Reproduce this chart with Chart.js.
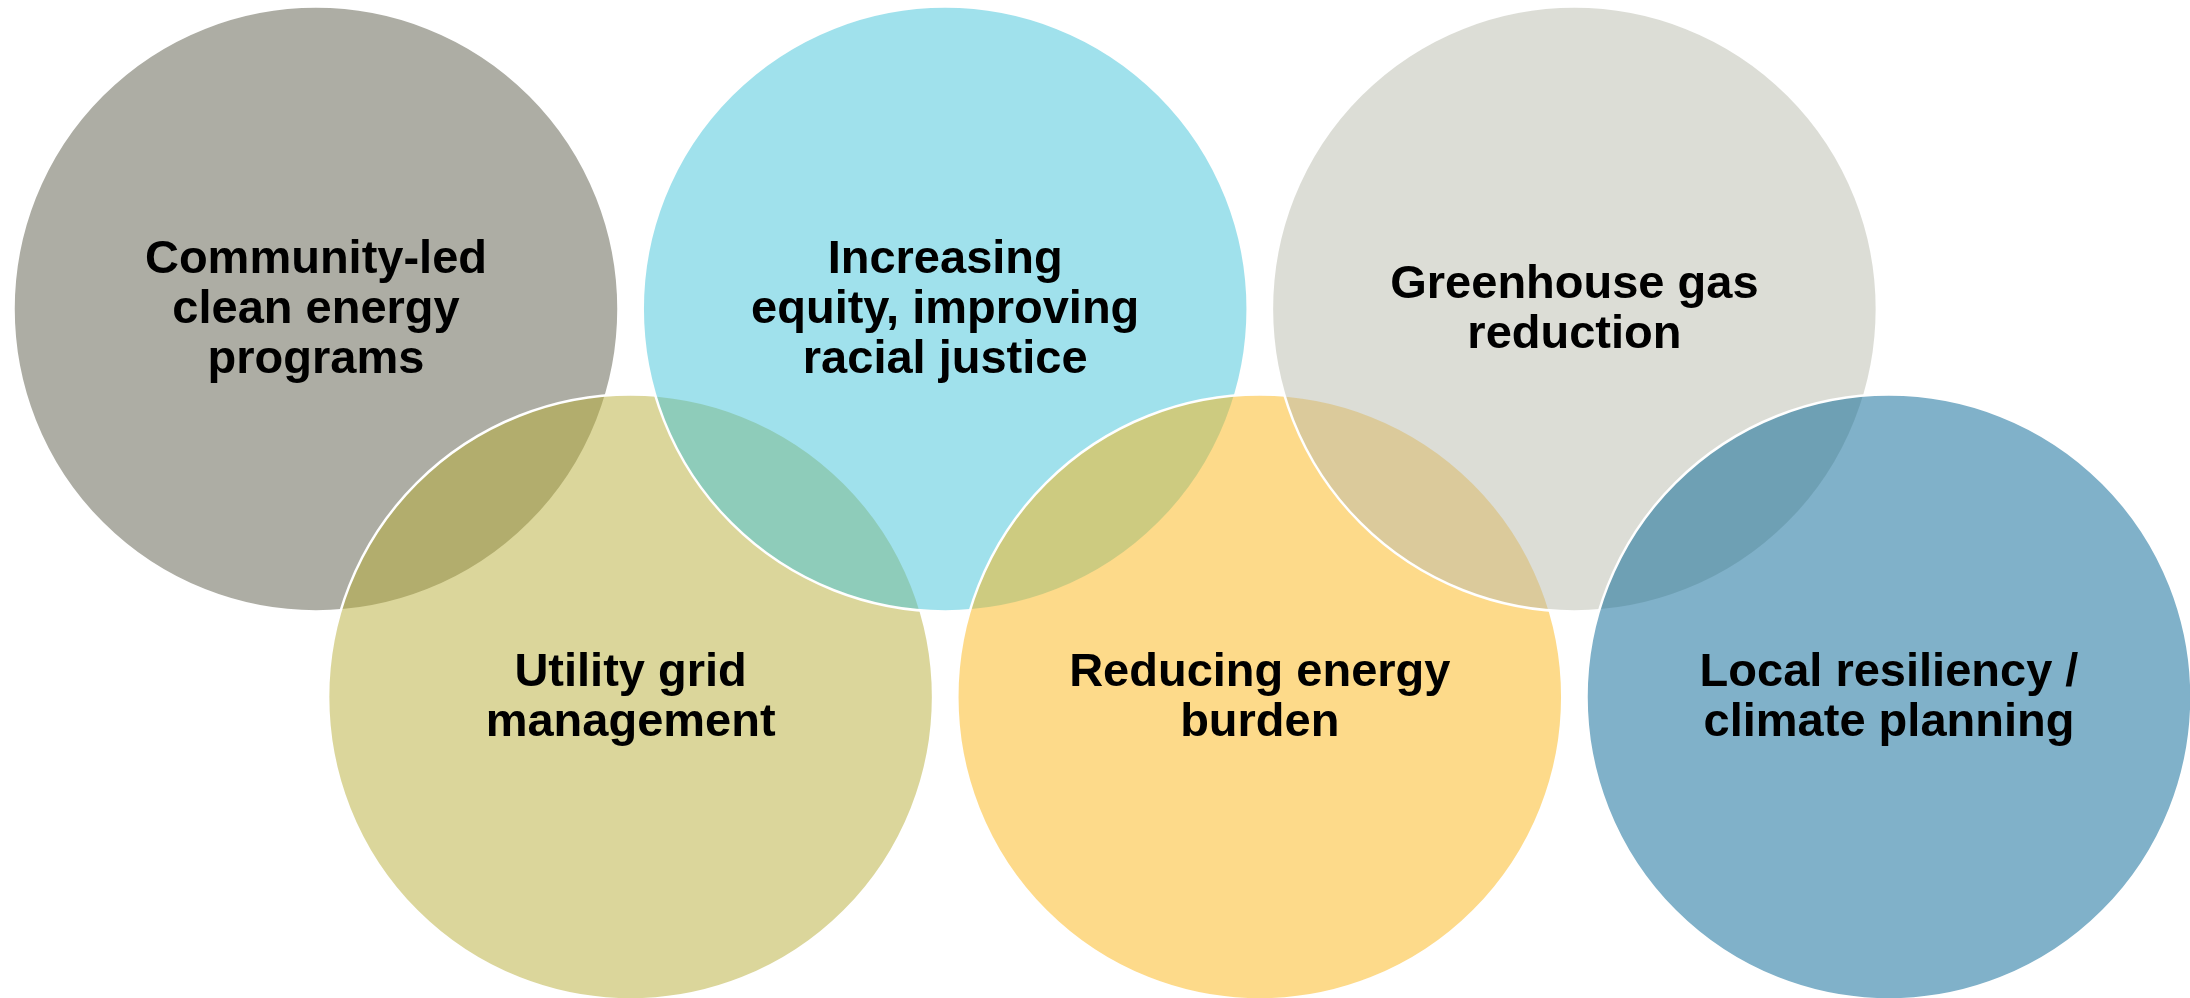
<!DOCTYPE html>
<html>
<head>
<meta charset="utf-8">
<script src="https://cdn.jsdelivr.net/npm/chart.js@4.4.1/dist/chart.umd.min.js"></script>
<style>
  html, body { margin: 0; padding: 0; background: #ffffff; }
  #wrap { width: 2190px; height: 998px; position: relative; }
</style>
</head>
<body>
<div id="wrap"><canvas id="c"></canvas></div>
<script>
// ---- data (drawing order: left to right, alternating rows) ----
const categories = [
  "Community-led clean energy programs",
  "Utility grid management",
  "Increasing equity, improving racial justice",
  "Reducing energy burden",
  "Greenhouse gas reduction",
  "Local resiliency / climate planning"
];
const labelLines = [
  ["Community-led", "clean energy", "programs"],
  ["Utility grid", "management"],
  ["Increasing", "equity, improving", "racial justice"],
  ["Reducing energy", "burden"],
  ["Greenhouse gas", "reduction"],
  ["Local resiliency /", "climate planning"]
];
const columns = [0, 1, 2, 3, 4, 5];
const rows = [0, 1, 0, 1, 0, 1];
const fillColors = [
  "rgba(91,91,73,0.5)",
  "rgba(183,173,55,0.5)",
  "rgba(65,195,217,0.5)",
  "rgba(251,181,21,0.5)",
  "rgba(185,187,173,0.5)",
  "rgba(1,99,147,0.5)"
];

// ---- layout / style constants ----
const CANVAS_W = 2190;
const X_MIN = -1.00445, X_MAX = 5.9568;
const Y_MIN = -0.7964, Y_MAX = 1.7758;
const RADIUS_UNITS = 0.9615;   // circle radius in column units
const RADIUS_PX = RADIUS_UNITS * CANVAS_W / (X_MAX - X_MIN);
const FONT_PX = 47;
const LINE_H = 50;

const labelPlugin = {
  id: 'circleLabels',
  afterDatasetsDraw(chart) {
    const ctx = chart.ctx;
    const xs = chart.scales.x, ys = chart.scales.y;
    ctx.save();
    ctx.fillStyle = '#000000';
    ctx.font = 'bold ' + FONT_PX + 'px "Liberation Sans", Arial, sans-serif';
    ctx.textAlign = 'center';
    ctx.textBaseline = 'alphabetic';
    labelLines.forEach((lines, i) => {
      const cx = xs.getPixelForValue(columns[i]);
      const cy = ys.getPixelForValue(rows[i]);
      const n = lines.length;
      lines.forEach((t, j) => {
        ctx.fillText(t, cx, cy + 14 + (j - (n - 1) / 2) * LINE_H);
      });
    });
    ctx.restore();
  }
};

new Chart(document.getElementById('c'), {
  type: 'bubble',
  data: {
    labels: categories,
    datasets: [{
      label: 'Priorities',
      data: columns.map((c, i) => ({ x: c, y: rows[i], r: RADIUS_PX })),
      backgroundColor: fillColors,
      hoverBackgroundColor: fillColors,
      borderColor: '#ffffff',
      hoverBorderColor: '#ffffff',
      borderWidth: 2.5,
      hoverBorderWidth: 2.5,
      hoverRadius: 0,
      clip: false
    }]
  },
  options: {
    responsive: true,
    maintainAspectRatio: false,
    animation: false,
    events: [],
    layout: { padding: 0, autoPadding: false },
    plugins: { legend: { display: false }, tooltip: { enabled: false } },
    scales: {
      x: { type: 'linear', display: false, min: X_MIN, max: X_MAX },
      y: { type: 'linear', display: false, reverse: true, min: Y_MIN, max: Y_MAX }
    }
  },
  plugins: [labelPlugin]
});
</script>
</body>
</html>
